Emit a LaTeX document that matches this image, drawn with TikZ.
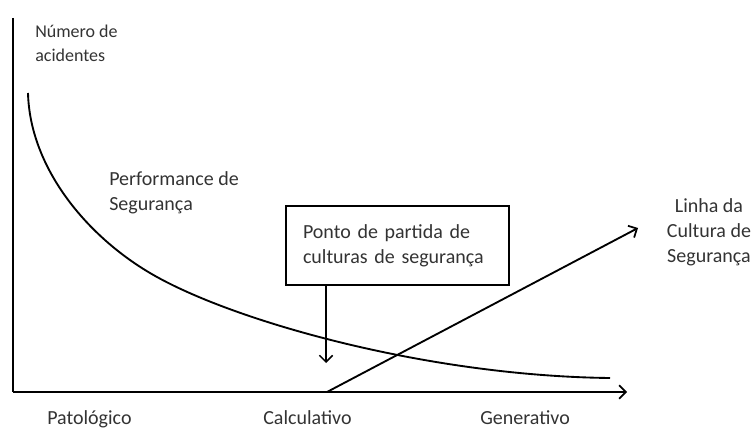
\documentclass[tikz,border=0pt]{standalone}
\usepackage{fontspec}
\setmainfont{Carlito}
\usetikzlibrary{arrows.meta}
\definecolor{txt}{HTML}{333333}
\begin{document}
\begin{tikzpicture}[x=0.75pt,y=-0.75pt,
  line/.style={line width=1.5pt,black},
  arr/.style={line/.try,-{Straight Barb[length=5pt,width=10pt,line width=1.3pt]}},
  lbl/.style={text=txt,font=\fontsize{15pt}{18.75pt}\selectfont,inner sep=0pt},
  ylbl/.style={text=txt,font=\fontsize{13.5pt}{18.5pt}\selectfont,inner sep=0pt},
  boxst/.style={draw,line width=1.1pt,minimum width=167.25pt,minimum height=59.25pt,
     text=txt,font=\fontsize{15pt}{18.75pt}\selectfont,align=left,inner xsep=12.75pt,
     text width=141.75pt}]
\useasboundingbox (0,0) rectangle (753,428);
% axes
\coordinate (origin) at (13,392);
\coordinate (ytop) at (13,18);
\coordinate (xend) at (627,392);
\draw[line] (ytop) -- (origin);
\draw[arr] (origin) -- (xend);
% axis labels (base anchor = baseline of last line)
\node[ylbl,anchor=base west,align=left] (ylabel) at (35,62) {Número de\\acidentes};
\node[lbl,anchor=base west] (pat) at (47,424) {Patológico};
\node[lbl,anchor=base west] (calc) at (263,424) {Calculativo};
\node[lbl,anchor=base west] (gen) at (480,424) {Generativo};
% performance curve
\coordinate (p0) at (28,93);
\coordinate (p1) at (157,277);
\coordinate (p2) at (610,378);
\draw[line,line width=1.4pt] (p0) .. controls (30,170) and (90,240) .. (p1)
   .. controls (240,323) and (430,376) .. (p2);
\node[lbl,anchor=base west,align=left] (perf) at (109,210) {Performance de\\Segurança};
% culture line
\coordinate (cstart) at (327,392);
\coordinate (cend) at (638,228);
\draw[arr,line width=1.4pt] (cstart) -- (cend);
\node[lbl,anchor=base,align=center] (linha) at (709,262) {Linha da\\Cultura de\\Segurança};
% box
\node[boxst] (box) at (397.5,245.5) {Ponto de partida de\\culturas de segurança};
\coordinate (tip) at (326,363);
\draw[line width=1.1pt,-{Straight Barb[length=5pt,width=10pt,line width=1.1pt]}] (box.south -| tip) -- (tip);
\end{tikzpicture}
\end{document}
